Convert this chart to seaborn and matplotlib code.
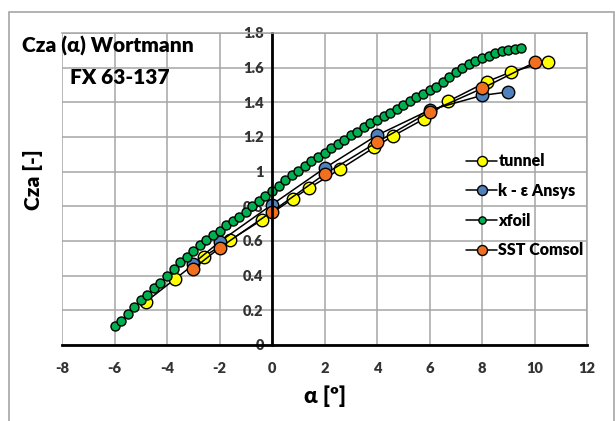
import matplotlib
matplotlib.use("Agg")
import matplotlib.pyplot as plt
from matplotlib.patches import Rectangle
import seaborn as sns
import pandas as pd

# wind tunnel measurement
tunnel_alpha = [-4.8, -3.7, -2.6, -1.6, -0.4, 0.8, 1.4, 2.6, 3.9, 4.6, 5.8, 6.7, 8.2, 9.1, 10.5]
tunnel_cz = [0.25, 0.38, 0.51, 0.605, 0.72, 0.845, 0.905, 1.015, 1.14, 1.205, 1.305, 1.405, 1.52, 1.575, 1.635]

# k - epsilon (Ansys)
ke_alpha = [-3, -2, 0, 2, 4, 6, 8, 9]
ke_cz = [0.47, 0.595, 0.81, 1.02, 1.21, 1.355, 1.44, 1.46]

# xfoil
xfoil_alpha = [-6.0, -5.75, -5.5, -5.25, -5.0, -4.75, -4.5, -4.25, -4.0, -3.75,
               -3.5, -3.25, -3.0, -2.75, -2.5, -2.25, -2.0, -1.75, -1.5, -1.25,
               -1.0, -0.75, -0.5, -0.25, 0.0, 0.25, 0.5, 0.75, 1.0, 1.25,
               1.5, 1.75, 2.0, 2.25, 2.5, 2.75, 3.0, 3.25, 3.5, 3.75,
               4.0, 4.25, 4.5, 4.75, 5.0, 5.25, 5.5, 5.75, 6.0, 6.25,
               6.5, 6.75, 7.0, 7.25, 7.5, 7.75, 8.0, 8.25, 8.5, 8.75,
               9.0, 9.25, 9.5]
xfoil_cz = [0.11, 0.14, 0.18, 0.22, 0.26, 0.29, 0.33, 0.36, 0.40, 0.44,
            0.48, 0.51, 0.54, 0.575, 0.605, 0.635, 0.66, 0.69, 0.715, 0.74,
            0.77, 0.80, 0.83, 0.86, 0.89, 0.92, 0.95, 0.98, 1.005, 1.035,
            1.06, 1.085, 1.11, 1.135, 1.16, 1.185, 1.21, 1.23, 1.255, 1.28,
            1.30, 1.32, 1.34, 1.36, 1.385, 1.41, 1.43, 1.45, 1.47, 1.49,
            1.52, 1.545, 1.575, 1.60, 1.62, 1.64, 1.655, 1.67, 1.685, 1.695,
            1.70, 1.708, 1.712]

# SST (Comsol)
sst_alpha = [-3, -2, 0, 2, 4, 6, 8, 10]
sst_cz = [0.44, 0.56, 0.77, 0.985, 1.17, 1.345, 1.48, 1.63]

x_ticks = [-8, -6, -4, -2, 0, 2, 4, 6, 8, 10, 12]
y_ticks = [0, 0.2, 0.4, 0.6, 0.8, 1, 1.2, 1.4, 1.6, 1.8]
y_tick_labels = ["0", "0.2", "0.4", "0.6", "0.8", "1", "1.2", "1.4", "1.6", "1.8"]

sns.set_style("white")
plt.rcParams['font.family'] = ['Lato', 'DejaVu Sans']
plt.rcParams['font.weight'] = 'bold'

fig = plt.figure(figsize=(6.15, 4.21), dpi=100)
ax = fig.add_axes([62 / 615, 76 / 421, 525 / 615, 312 / 421])

series = [
    (tunnel_alpha, tunnel_cz, "tunnel", "#FFFF00", 9),
    (ke_alpha, ke_cz, "k - \u03b5 Ansys", "#4F81BD", 9),
    (xfoil_alpha, xfoil_cz, "xfoil", "#00B050", 6.5),
    (sst_alpha, sst_cz, "SST Comsol", "#F07020", 9),
]

for alpha, cz, label, color, size in series:
    df = pd.DataFrame({"alpha": alpha, "cz": cz})
    sns.lineplot(data=df, x="alpha", y="cz", ax=ax, color="black", linewidth=1.1,
                 marker="o", markersize=size, markerfacecolor=color,
                 markeredgecolor="black", markeredgewidth=1.0, label=label,
                 sort=False, estimator=None)

ax.set_xlim(-8, 12)
ax.set_ylim(0, 1.8)
ax.set_xticks(x_ticks)
ax.set_xticklabels([str(t) for t in x_ticks])
ax.set_yticks(y_ticks)
ax.set_yticklabels(y_tick_labels)
ax.grid(True, color="#A6A6A6", linewidth=1.1)
ax.set_axisbelow(True)

ax.spines['left'].set_position(('data', 0))
for s in ['left', 'bottom']:
    ax.spines[s].set_color("black")
    ax.spines[s].set_linewidth(2)
for s in ['top', 'right']:
    ax.spines[s].set_color("#A6A6A6")
    ax.spines[s].set_linewidth(1.1)

ax.tick_params(axis='both', direction='out', length=4, width=2, color='black',
               labelsize=10.5, labelcolor='#333333', pad=3)
ax.tick_params(axis='x', pad=8)
ax.tick_params(axis='y', pad=2)
for lbl in ax.get_xticklabels() + ax.get_yticklabels():
    lbl.set_fontweight('heavy')

ax.set_xlabel("")
ax.set_ylabel("")

fig.text(22 / 615, 1 - 46 / 421, "Cza (\u03b1) Wortmann", fontsize=15, fontweight='heavy',
         ha='left', va='center', color='black')
fig.text(70 / 615, 1 - 77 / 421, "FX 63-137", fontsize=15, fontweight='heavy',
         ha='left', va='center', color='black')
fig.text(33 / 615, 1 - 180 / 421, "Cza [-]", fontsize=15, fontweight='heavy',
         rotation=90, ha='center', va='center', color='black')
fig.text(325 / 615, 1 - 396 / 421, "\u03b1 [\u00ba]", fontsize=16, fontweight='heavy',
         ha='center', va='center', color='black')

leg = ax.legend(loc='upper left', bbox_to_anchor=(452 / 615, 1 - 139 / 421),
                bbox_transform=fig.transFigure, frameon=False, fontsize=11.5,
                labelspacing=0.85, handlelength=1.9, handletextpad=0.1,
                markerscale=0.8)
for t in leg.get_texts():
    t.set_fontweight('heavy')
    t.set_color('black')

# outer chart frame
fig.patches.append(Rectangle((9 / 615, -0.1), 605 / 615, 1.1 - 12 / 421,
                             transform=fig.transFigure, fill=False,
                             edgecolor="#A6A6A6", linewidth=1.2))

fig.savefig("out.png", dpi=100)
